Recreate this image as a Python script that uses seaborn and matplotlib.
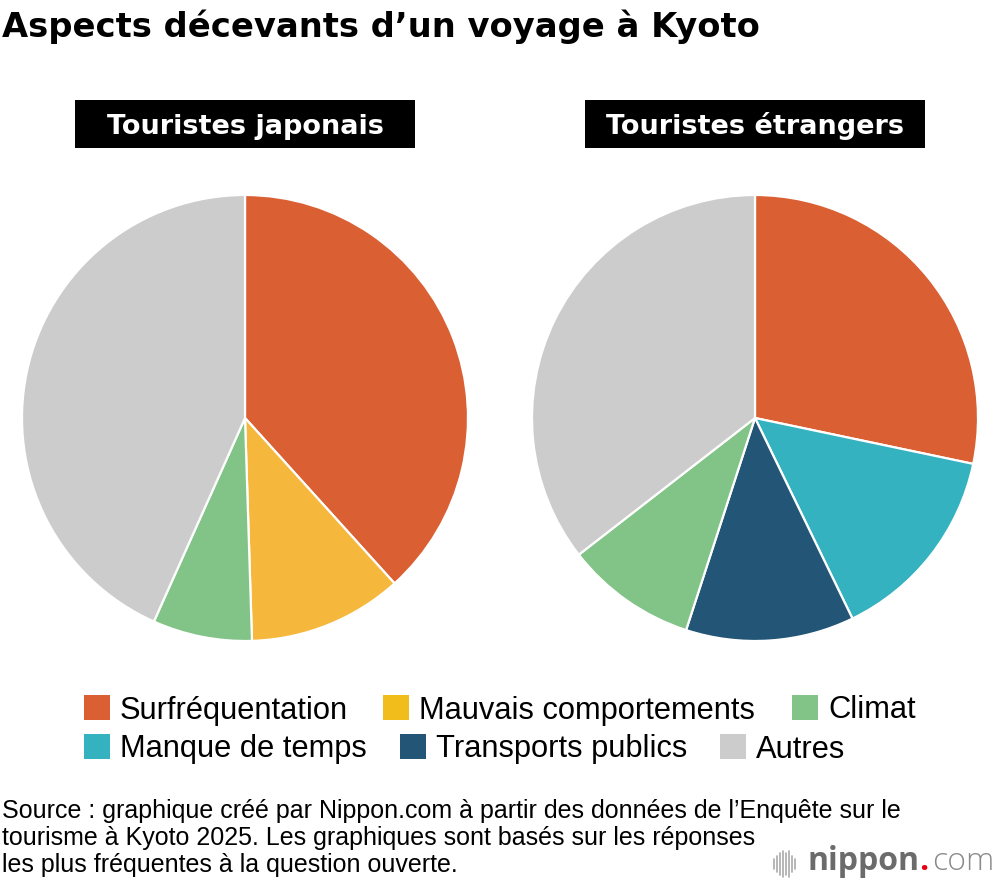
import matplotlib
matplotlib.use('Agg')
import matplotlib.pyplot as plt
import seaborn as sns
from matplotlib.patches import Rectangle
from matplotlib.lines import Line2D

# Data (shares, in %)
jp_labels = ['Surfréquentation', 'Mauvais comportements', 'Climat', 'Autres']
jp_values = [38.3, 11.2, 7.2, 43.3]
fr_labels = ['Surfréquentation', 'Manque de temps', 'Transports publics', 'Climat', 'Autres']
fr_values = [28.3, 14.5, 12.2, 9.5, 35.5]

legend_row1 = ['Surfréquentation', 'Mauvais comportements', 'Climat']
legend_row2 = ['Manque de temps', 'Transports publics', 'Autres']

palette = {
    'Surfréquentation': '#DA5F33',
    'Mauvais comportements': '#F5B83C',
    'Climat': '#82C487',
    'Manque de temps': '#34B2C0',
    'Transports publics': '#235676',
    'Autres': '#CCCCCC',
}
legend_colors = dict(palette, **{'Mauvais comportements': '#F1BD1B'})

title = 'Aspects décevants d\u2019un voyage à Kyoto'
panel_titles = ['Touristes japonais', 'Touristes étrangers']
source_lines = [
    'Source : graphique créé par Nippon.com à partir des données de l\u2019Enquête sur le',
    'tourisme à Kyoto 2025. Les graphiques sont basés sur les réponses',
    'les plus fréquentes à la question ouverte.',
]

sns.set_theme(style='white')
plt.rcParams['font.family'] = ['Liberation Sans', 'DejaVu Sans']
BOLD = ['DejaVu Sans']

W, H = 1000, 886
fig = plt.figure(figsize=(W / 100, H / 100), dpi=100)


def fx(x):
    return x / W


def fy(y):
    return 1 - y / H


# pies: left centre (245, 418), right centre (755, 418), radius 223 px
for left, labels, values, ptitle, box_x in [
        (22, jp_labels, jp_values, panel_titles[0], 75),
        (532, fr_labels, fr_values, panel_titles[1], 585)]:
    ax = fig.add_axes([fx(left), fy(641), 446 / W, 446 / H])
    ax.pie(values, colors=[palette[l] for l in labels], startangle=90,
           counterclock=False, radius=1,
           wedgeprops=dict(edgecolor='white', linewidth=1.6))
    ax.set_xlim(-1.0, 1.0)
    ax.set_ylim(-1.0, 1.0)
    ax.axis('off')

    # black title box
    fig.add_artist(Rectangle((fx(box_x), fy(148)), 340 / W, 48 / H,
                             transform=fig.transFigure, facecolor='black',
                             edgecolor='none'))
    fig.text(fx(box_x + 170), fy(134.5), ptitle, color='white', fontsize=19.5,
             fontweight='bold', family=BOLD, ha='center', va='baseline')

fig.text(fx(2), fy(37), title, fontsize=24.3, fontweight='bold', family=BOLD,
         ha='left', va='baseline', color='black')

# legend, laid out in two rows like the original
rows = [(legend_row1, [84, 383, 792], 695), (legend_row2, [84, 400, 720], 734)]
for names, xs, top in rows:
    for name, x in zip(names, xs):
        fig.add_artist(Rectangle((fx(x), fy(top + 25)), 26 / W, 25 / H,
                                 transform=fig.transFigure,
                                 facecolor=legend_colors[name], edgecolor='none'))
        fig.text(fx(x + 36), fy(top + 23.5), name, fontsize=22.2,
                 ha='left', va='baseline', color='black')

for i, line in enumerate(source_lines):
    fig.text(fx(2), fy(818 + 26.8 * i), line, fontsize=18, ha='left',
             va='baseline', color='black')

# nippon.com logo
bar_x = [774, 777, 780, 783, 786, 789, 792, 795]
bar_h = [10, 16, 22, 26, 22, 26, 16, 10]
for x, h in zip(bar_x, bar_h):
    fig.add_artist(Line2D([fx(x), fx(x)], [fy(864 + h / 2), fy(864 - h / 2)],
                          transform=fig.transFigure, color='#AAAAAA', lw=1.2))
fig.text(fx(808), fy(870), 'nippon', fontsize=23, fontweight='bold',
         family='Open Sans', color='#6B6B6B', ha='left', va='baseline')
fig.text(fx(919), fy(870), '.', fontsize=23, fontweight='bold',
         family='Open Sans', color='#E60012', ha='left', va='baseline')
fig.text(fx(932), fy(870), 'com', fontsize=23, fontweight='light',
         family='Open Sans', color='#8A8A8A', ha='left', va='baseline')

fig.savefig('out.png', dpi=100, facecolor='white')
